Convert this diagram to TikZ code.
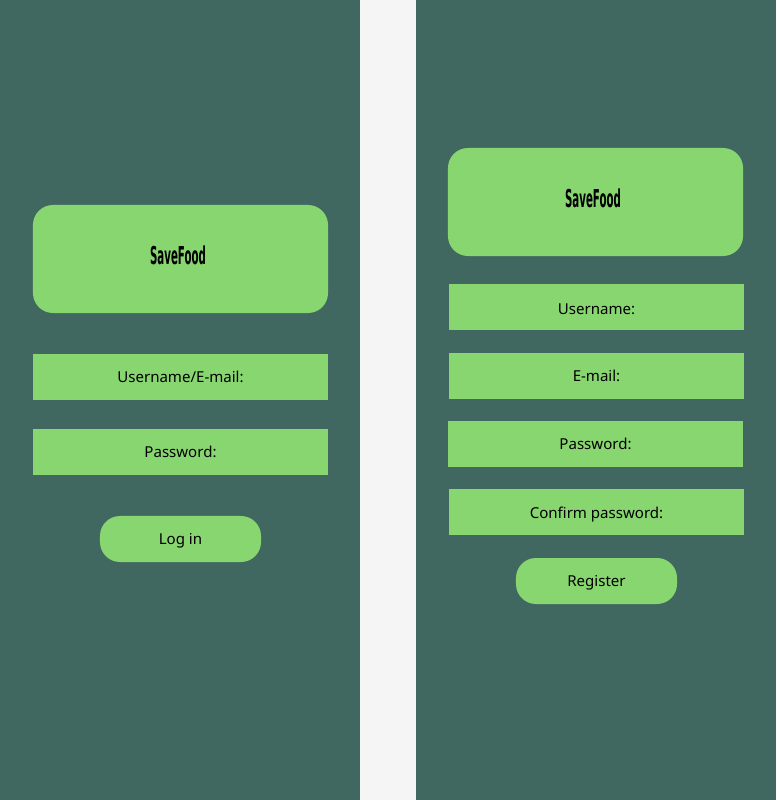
\documentclass[tikz,border=0pt]{standalone}
\usepackage{fontspec}
\setmainfont{Noto Sans}
\newfontfamily\logofont[FakeStretch=0.415]{DejaVu Sans}
\definecolor{panelgreen}{HTML}{406860}
\definecolor{boxgreen}{HTML}{88D670}
\definecolor{gapgray}{HTML}{F5F5F5}
\begin{document}
\begin{tikzpicture}
[   x=0.025cm,y=-0.025cm,
    panel/.style={fill=panelgreen,minimum width=9cm,minimum height=20cm,inner sep=0pt},
    logobox/.style={fill=boxgreen,rounded corners=0.5cm,minimum width=7.375cm,minimum height=2.7cm,inner sep=0pt},
    logotext/.style={font=\logofont\bfseries\fontsize{17.5}{17.5}\selectfont,inner sep=0pt},
    field/.style={fill=boxgreen,minimum width=7.375cm,minimum height=1.15cm,inner sep=0pt,text height=9.5pt,text depth=2pt,font=\fontsize{10.7}{13}\selectfont},
    btn/.style={fill=boxgreen,rounded corners=0.5cm,minimum width=4.025cm,minimum height=1.15cm,inner sep=0pt,text height=9.5pt,text depth=2pt,font=\fontsize{10.7}{13}\selectfont},
]
    \useasboundingbox (0,0) rectangle (776,800);
    \fill[gapgray] (0,0) rectangle (776,800);
    \node[panel] (login) at (180,400) {};
    \node[panel] (signup) at (596,400) {};
    % login side
    \node[logobox] (logo-a) at (180.5,259) {};
    \node[logotext] (name-a) at (178,255) {SaveFood};
    \node[field] (user-a) at (180.5,377) {Username/E-mail:};
    \node[field] (pass-a) at (180.5,452) {Password:};
    \node[btn] (login-btn) at (180.5,539) {Log in};
    % register side
    \node[logobox] (logo-b) at (595.5,202) {};
    \node[logotext] (name-b) at (593,198) {SaveFood};
    \foreach \y/\x/\n/\t/\h in {307/596.5/user/Username:/13pt,376/596.5/mail/E-mail:/9.5pt,444/595.5/pass/Password:/9.5pt,512/596.5/conf/Confirm password:/11pt}
    {   \node[field,text height=\h] (\n-b) at (\x,\y) {\t};
    }
    \node[btn] (reg-btn) at (596.5,581) {Register};
\end{tikzpicture}
\end{document}
